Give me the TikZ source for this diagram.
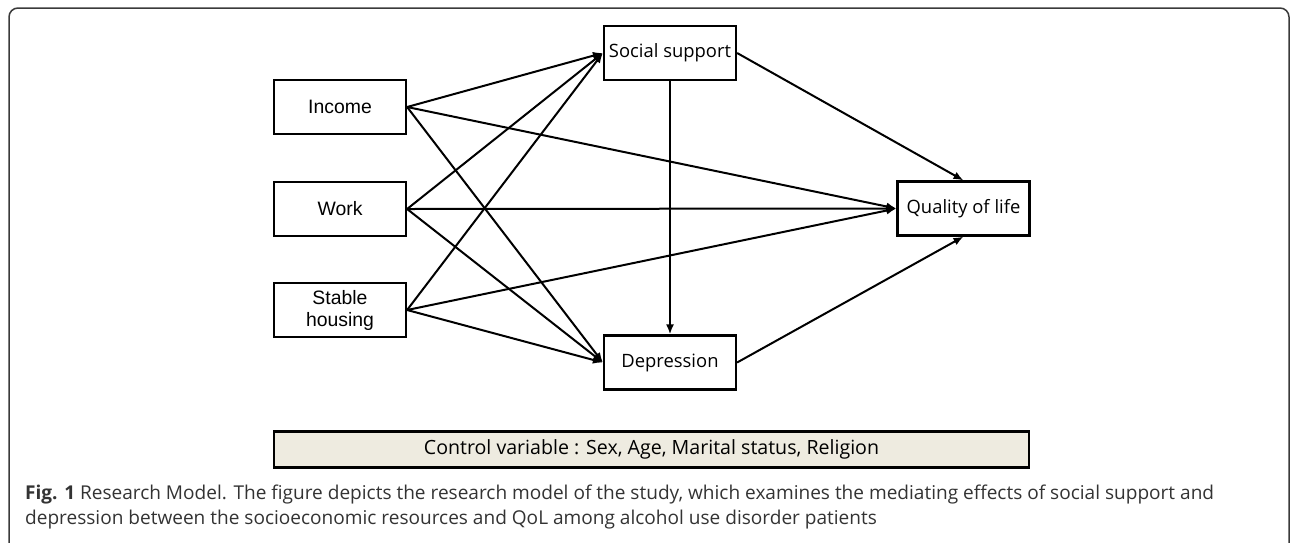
\documentclass[tikz,border=0pt]{standalone}
\usepackage{fontspec}
\setmainfont{Open Sans}
\newfontfamily\arialf{Liberation Sans}
\newfontfamily\korf{Open Sans}
\usetikzlibrary{arrows.meta}
\definecolor{ctrlfill}{HTML}{EEEBE0}
\definecolor{captxt}{HTML}{333333}
\definecolor{framec}{HTML}{3A3A3A}
\tikzset{
  varbox/.style={draw=black, line width=2.2pt, minimum width=132pt, minimum height=54pt, inner sep=0pt, align=center},
  arialtxt/.style={font=\arialf\fontsize{19.4}{22}\selectfont},
  kortxt/.style={font=\korf\fontsize{18.4}{22}\selectfont},
  path/.style={draw=black, line width=2pt, -{Latex[length=10pt,width=8pt]}},
  captext/.style={text=captxt, inner sep=0pt, anchor=base west, font=\fontsize{19.05}{25}\selectfont}
}
\begin{document}
\begin{tikzpicture}[x=1pt,y=-1pt]
\useasboundingbox (0,0) rectangle (1290,542);
\draw[framec, line width=1.5pt, rounded corners=9pt] (9,8) rectangle (1289,552);

\node[varbox, arialtxt] (inc) at (340,107) {Income};
\node[varbox, arialtxt] (work) at (340,209) {Work};
\node[varbox, arialtxt] (hous) at (340,310) {Stable\\housing};
\node[varbox, kortxt] (ss) at (670,53) {Social support};
\node[varbox, kortxt] (dep) at (670,362.5) {Depression};
\node[varbox, kortxt] (qol) at (963.5,208.5) {Quality of life};

\node[draw=black, fill=ctrlfill, line width=2.2pt, minimum width=755pt, minimum height=36pt, inner sep=0pt, font=\korf\fontsize{19.6}{22}\selectfont] (ctrl) at (651.5,449.5) {Control variable : Sex, Age, Marital status, Religion};

\foreach \s in {inc,work,hous}{
  \draw[path] (\s.east) -- (ss.west);
  \draw[path] (\s.east) -- (dep.west);
  \draw[path] (\s.east) -- (qol.west);
}
\draw[path] (ss.south) -- (dep.north);
\draw[path] (ss.east) -- (qol.north);
\draw[path] (dep.east) -- (qol.south);

\node[captext] (cap1) at (25,499) {{\bfseries Fig. 1} Research Model. The figure depicts the research model of the study, which examines the mediating effects of social support and};
\node[captext] (cap2) at (25,524) {depression between the socioeconomic resources and QoL among alcohol use disorder patients};
\end{tikzpicture}
\end{document}
